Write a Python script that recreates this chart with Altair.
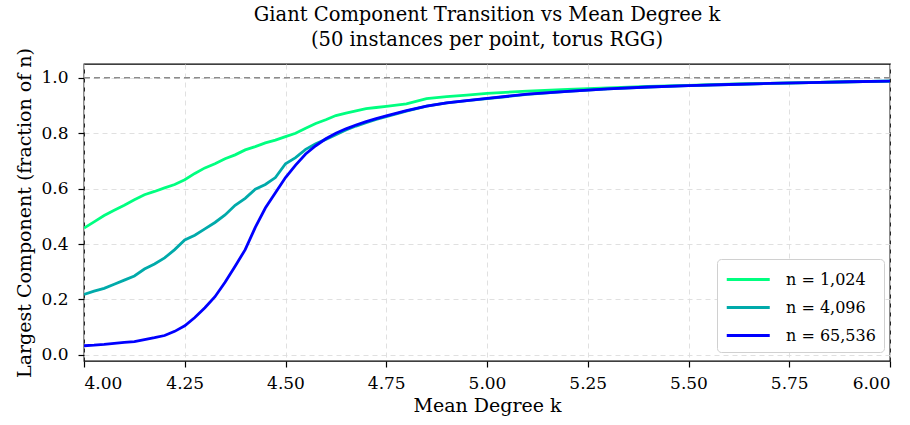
import altair as alt
import pandas as pd

k = [4.000, 4.025, 4.050, 4.075, 4.100, 4.125, 4.150, 4.175, 4.200, 4.225,
     4.250, 4.275, 4.300, 4.325, 4.350, 4.375, 4.400, 4.425, 4.450, 4.475,
     4.500, 4.525, 4.550, 4.575, 4.600, 4.625, 4.650, 4.675, 4.700, 4.725,
     4.750, 4.800, 4.850, 4.900, 4.950, 5.000, 5.100, 5.200, 5.300, 5.400,
     5.500, 5.600, 5.700, 5.800, 5.900, 6.000]

n1024 = [0.458, 0.480, 0.503, 0.522, 0.540, 0.560, 0.578, 0.590, 0.603, 0.615,
         0.632, 0.655, 0.675, 0.690, 0.708, 0.722, 0.740, 0.752, 0.765, 0.775,
         0.788, 0.800, 0.818, 0.835, 0.849, 0.864, 0.873, 0.881, 0.889, 0.893,
         0.897, 0.906, 0.925, 0.932, 0.938, 0.944, 0.952, 0.958, 0.964, 0.969,
         0.973, 0.977, 0.980, 0.983, 0.986, 0.988]

n4096 = [0.218, 0.230, 0.240, 0.255, 0.270, 0.285, 0.310, 0.328, 0.350, 0.380,
         0.415, 0.432, 0.455, 0.478, 0.505, 0.540, 0.565, 0.598, 0.615, 0.640,
         0.690, 0.712, 0.742, 0.762, 0.778, 0.795, 0.812, 0.826, 0.838, 0.850,
         0.860, 0.880, 0.898, 0.910, 0.918, 0.925, 0.940, 0.951, 0.960, 0.967,
         0.972, 0.976, 0.980, 0.983, 0.986, 0.988]

n65536 = [0.033, 0.035, 0.038, 0.042, 0.045, 0.048, 0.055, 0.062, 0.070, 0.085,
          0.105, 0.135, 0.170, 0.210, 0.262, 0.320, 0.380, 0.460, 0.530, 0.585,
          0.640, 0.685, 0.725, 0.755, 0.780, 0.800, 0.816, 0.830, 0.842, 0.853,
          0.863, 0.882, 0.898, 0.910, 0.918, 0.926, 0.941, 0.951, 0.960, 0.967,
          0.972, 0.976, 0.980, 0.983, 0.986, 0.988]

series_names = ["n = 1,024", "n = 4,096", "n = 65,536"]
series_colors = ["#00ff80", "#00aaaa", "#0000ff"]
x_ticks = [4.00, 4.25, 4.50, 4.75, 5.00, 5.25, 5.50, 5.75, 6.00]
y_ticks = [0.0, 0.2, 0.4, 0.6, 0.8, 1.0]
ref_level = [1.0]

rows = []
for name, vals in zip(series_names, [n1024, n4096, n65536]):
    for i, (kk, v) in enumerate(zip(k, vals)):
        rows.append({"k": kk, "frac": v, "series": name, "order": i})
df = pd.DataFrame(rows)
ref_df = pd.DataFrame({"y": ref_level})

FONT = "DejaVu Serif"

xscale = alt.Scale(domain=[4.0, 6.0], nice=False, zero=False)
yscale = alt.Scale(domain=[-0.022, 1.05], nice=False, zero=False)

ref = alt.Chart(ref_df).mark_rule(color="#8c8c8c", strokeWidth=1.5, strokeDash=[6, 4]).encode(
    y=alt.Y("y:Q", scale=yscale)
)

lines = alt.Chart(df).mark_line(strokeWidth=2.8, clip=True).encode(
    x=alt.X("k:Q", scale=xscale,
            axis=alt.Axis(values=x_ticks, format=".2f", title="Mean Degree  k")),
    y=alt.Y("frac:Q", scale=yscale,
            axis=alt.Axis(values=y_ticks, format=".1f",
                          title="Largest Component (fraction of n)")),
    color=alt.Color("series:N",
                    scale=alt.Scale(domain=series_names, range=series_colors),
                    legend=alt.Legend(title=None, orient="none", legendX=633, legendY=195,
                                      symbolType="M-1,0H3", symbolSize=462,
                                      symbolStrokeWidth=3, labelFont=FONT,
                                      labelFontSize=16, labelOffset=36,
                                      rowPadding=7, padding=8,
                                      fillColor="white", strokeColor="#d0d0d0",
                                      cornerRadius=4)),
    order="order:Q",
)

chart = alt.layer(ref, lines).properties(
    width=806, height=297,
    title=alt.TitleParams(
        text=["Giant Component Transition vs Mean Degree k", "(50 instances per point, torus RGG)"],
        font=FONT, fontSize=19.5, fontWeight="normal", lineHeight=25,
        anchor="middle", offset=13, dy=16, color="black"),
    autosize=alt.AutoSizeParams(type="none"),
    padding={"left": 84, "top": 64, "right": 20, "bottom": 64},
).configure_view(
    stroke="black", strokeWidth=1.3
).configure_axis(
    labelFont=FONT, labelFontSize=17, labelColor="black",
    titleFont=FONT, titleFontSize=19, titleFontWeight="normal", titleColor="black",
    domain=False, tickColor="black", tickSize=6, tickWidth=1.2,
    grid=True, gridColor="#dddddd", gridDash=[5, 4], gridWidth=0.9,
).configure_axisX(titlePadding=5, labelPadding=8).configure_axisY(titlePadding=6, labelPadding=10)

chart.save("out.html", embed_options={"renderer": "svg", "actions": False})
